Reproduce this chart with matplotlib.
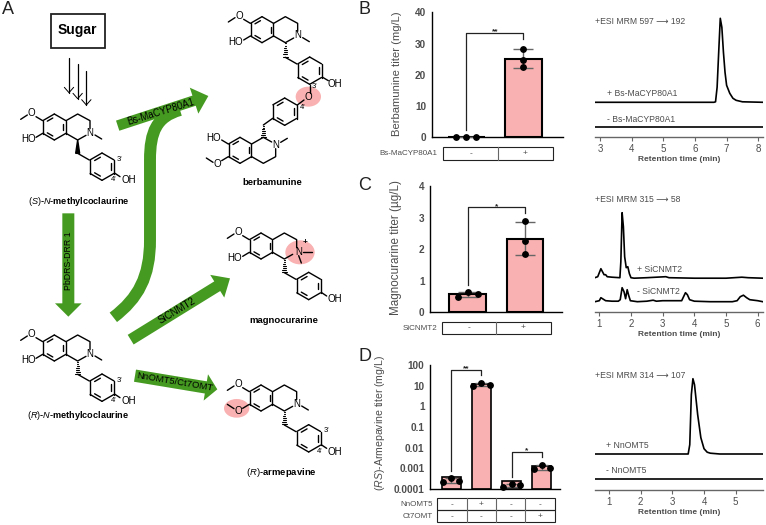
import numpy as np
import matplotlib
matplotlib.use("Agg")
from matplotlib import pyplot as plt
from matplotlib.patches import Polygon, Ellipse, Rectangle, PathPatch
from matplotlib.path import Path

plt.rcParams['font.family'] = ['Liberation Sans', 'DejaVu Sans']
plt.rcParams['mathtext.fontset'] = 'custom'
plt.rcParams['mathtext.it'] = 'Liberation Sans:italic'
plt.rcParams['mathtext.rm'] = 'Liberation Sans'

# bar values
b_labels = ["-", "+"]
b_ctrl = [0.1, 0.1, 0.1]
b_test = [28.4, 24.6, 22.5]
c_labels = ["-", "+"]
c_ctrl = [0.5, 0.65, 0.57]
c_test = [2.88, 2.25, 1.85]
d_groups = [[0.00022, 0.00034, 0.00024], [9.5, 14, 11],
            [0.00013, 0.00018, 0.00016], [0.00095, 0.0015, 0.00105]]
d_row1 = ["-", "+", "-", "-"]
d_row2 = ["-", "-", "-", "+"]
d_ticks = [0.0001, 0.001, 0.01, 0.1, 1, 10, 100]
d_ticklabels = ["0.0001", "0.001", "0.01", "0.1", "1", "10", "100"]

# chromatograms
b_t_plus = [2.84, 6.0, 6.6, 6.65, 6.7, 6.75, 6.8, 6.85, 6.9, 6.95, 7.0, 7.1, 7.2, 7.3, 7.5, 8.16]
b_y_plus = [35, 35, 35, 35.5, 50, 85, 119, 110, 85, 65, 52, 44, 39, 37, 35.5, 35]
b_t_minus = [2.84, 8.16]
b_y_minus = [10.7, 10.7]
c_t_plus = [.86, .95, 1.0, 1.05, 1.1, 1.15, 1.2, 1.25, 1.4, 1.65, 1.68, 1.72, 1.76, 1.8, 1.85, 1.9, 1.95,
            2.0, 2.1, 2.5, 3.1, 3.2, 4.0, 5.0, 5.5, 5.7, 6.16]
c_y_plus = [34, 35, 39, 43, 40, 37, 37, 35, 34.5, 34, 50, 99, 85, 55, 44, 45, 38,
            34, 33.5, 34, 35, 34, 33.5, 33.5, 34.5, 34, 33.5]
c_t_minus = [.86, 1.0, 1.05, 1.1, 1.2, 1.4, 1.6, 1.66, 1.72, 1.78, 1.83, 1.88, 1.93, 1.98, 2.2, 2.5, 2.7, 2.8,
             3.0, 3.4, 3.6, 3.66, 3.72, 3.78, 3.85, 4.0, 4.5, 5.2, 5.35, 5.45, 5.55, 5.65, 5.75, 6.0, 6.16]
c_y_minus = [10, 11, 14, 13, 11, 10.5, 10.5, 12, 24, 20, 13, 22, 16, 11, 10, 10.5, 11.5, 10.5,
             11, 11, 11, 15, 19, 17, 12, 10.5, 10, 10, 11, 15, 16.5, 14, 12, 11, 10]
d_t_plus = [.56, 3.5, 3.55, 3.6, 3.65, 3.7, 3.75, 3.8, 3.9, 4.0, 4.1, 4.2, 4.5, 5.85]
d_y_plus = [35.7, 35.7, 45, 95, 111, 105, 90, 75, 52, 41, 37.5, 36.5, 35.7, 35.7]
d_t_minus = [.56, 5.85]
d_y_minus = [10.7, 10.7]

W, H = 766, 525
GREEN = '#459a21'
PINK = '#f9b1b1'
GREY = '#4d4d4d'

fig = plt.figure(figsize=(W / 100, H / 100), dpi=100)


def px_axes(left, top, right, bottom):
    return fig.add_axes([left / W, 1 - bottom / H, (right - left) / W, (bottom - top) / H], facecolor='none')


# full-figure layer in pixels for the scheme, tables and text
ov = px_axes(0, 0, W, H)
ov.set_xlim(0, W)
ov.set_ylim(H, 0)
ov.axis('off')


def line(pts, lw=1.0, color='black', zorder=3):
    arr = np.array(pts, dtype=float) / 3
    ov.plot(arr[:, 0], arr[:, 1], color=color, lw=lw, solid_capstyle='round', zorder=zorder)


def label(x, y, s, size=7, **kw):
    kw.setdefault('ha', 'center')
    kw.setdefault('va', 'center')
    ov.text(x / 3, y / 3, s, fontsize=size, zorder=4, **kw)


def ring(cx, cy, r=40, inner=(0, 2, 4)):
    ang = np.radians([150, 90, 30, -30, -90, -150])
    vx = cx + r * np.cos(ang)
    vy = cy - r * np.sin(ang)
    for i in range(6):
        j = (i + 1) % 6
        line([(vx[i], vy[i]), (vx[j], vy[j])])
        if i in inner:
            a = np.array([vx[i], vy[i]])
            b = np.array([vx[j], vy[j]])
            c = np.array([cx, cy])
            p = a + (b - a) * 0.18
            q = a + (b - a) * 0.82
            line([p + (c - p) * 0.24, q + (c - q) * 0.24])


def stereo(x0, y0, x1, y1, hashed=True):
    if hashed:
        for f in np.linspace(0.05, 0.95, 7):
            hw = 1 + 6 * f
            y = y0 + (y1 - y0) * f
            line([(x0 - hw, y), (x0 + hw, y)], lw=0.8)
    else:
        ov.add_patch(Polygon([(x0 / 3, y0 / 3), ((x0 - 6) / 3, y1 / 3), ((x0 + 6) / 3, y1 / 3)],
                             color='black', zorder=3))


def iso(ox, oy, flip=1, charged=False, dimethoxy=False):
    def p(dx, dy):
        return (ox + dx, oy + flip * dy)
    if flip == 1:
        ring(ox + 35, oy + 19, 39, inner=(0, 2, 4))
    else:
        ring(ox + 35, oy - 19, 39, inner=(0, 2, 4))
    line([p(70, 0), p(105, -20), p(142, 0), p(142, 24)])
    line([p(70, 38), p(105, 58), p(130, 44)])
    line([p(0, 0), p(-20, -12)])
    line([p(-46, -17), p(-66, -4)])
    ox_, oy_ = p(-33, -22)
    label(ox_, oy_, 'O')
    if dimethoxy:
        line([p(0, 38), p(-20, 50)])
        line([p(-46, 51), p(-66, 38)])
        label(*p(-33, 58), 'O')
    else:
        line([p(0, 38), p(-20, 50)])
        label(*p(-43, 56), 'HO')
    nx, ny = p(142, 36)
    label(nx + (6 if charged else 0), ny, 'N')
    if charged:
        line([(nx + 18, ny), (nx + 45, ny)])
        line([(nx + 6, ny + 12), (nx + 14, ny + 34)])
        label(nx + 24, ny - 28, '+', size=6, fontweight='bold')
    else:
        line([p(157, 43), p(177, 55)])


def benzyl(x, y, oh=True, primes=True):
    # ring hanging from the CH2 at (x, y)
    line([(x, y), (x + 35, y + 20)])
    ring(x + 73, y + 40, 41, inner=(0, 2, 4))
    if oh:
        line([(x + 112, y + 60), (x + 127, y + 70)])
        label(x + 152, y + 80, 'OH')
    if primes:
        label(x + 125, y + 18, "3'", size=5.5)
        label(x + 107, y + 79, "4'", size=5.5)


def arrow(x0, y0, x1, y1, w, hw, hl, text=None, tx=None, ty=None, rot=0, size=6.9):
    a = np.array([x0, y0], dtype=float)
    b = np.array([x1, y1], dtype=float)
    d = (b - a) / np.hypot(*(b - a))
    n = np.array([-d[1], d[0]])
    base = b - d * hl
    pts = [a + n * w / 2, base + n * w / 2, base + n * hw / 2, b, base - n * hw / 2, base - n * w / 2, a - n * w / 2]
    ov.add_patch(Polygon(np.array(pts) / 3, color=GREEN, lw=0, zorder=2))
    if text:
        label(tx, ty, text, size=size, rotation=rot, rotation_mode='anchor', color='black')


# --- panel A ---
for s, x, y in [('A', 25, 28), ('B', 1095, 27), ('C', 1095, 558), ('D', 1095, 1070)]:
    label(x, y, s, size=13, color='#222222')

ov.add_patch(Rectangle((50.5, 13.5), 54.5, 34.5, fill=False, ec='#222222', lw=1.3))
label(232, 90, 'Sugar', size=10, fontweight='bold')
for x, y0, y1 in [(207, 175, 278), (233, 192, 296), (259, 212, 315)]:
    line([(x, y0), (x, y1)], lw=0.9)
    line([(x - 14, y1 - 16), (x, y1), (x + 14, y1 - 16)], lw=0.7)

# green arrows
curve = Path(np.array([(340, 952), (415, 895), (450, 830), (450, 720), (450, 480), (450, 395), (470, 350), (540, 330)]) / 3,
             [Path.MOVETO, Path.CURVE4, Path.CURVE4, Path.CURVE4, Path.LINETO, Path.CURVE4, Path.CURVE4, Path.CURVE4])
ov.add_patch(PathPatch(curve, fill=False, ec=GREEN, lw=8.6, capstyle='butt', zorder=2))
arrow(353, 377, 625, 288, 32, 82, 45, 'Bs-MaCYP80A1', 482, 335, 17)
arrow(205, 640, 205, 950, 36, 80, 40, 'PbDRS-DRR 1', 205, 782, 90, size=6.3)
arrow(392, 1019, 690, 835, 34, 80, 45, 'SiCNMT2', 530, 932, 31, size=7)
arrow(405, 1127, 652, 1168, 37, 80, 35, 'NnOMT5/Ct7OMT', 524, 1147, -9.5, size=6.8)

# pink highlights
for cx, cy, rx, ry in [(925, 290, 38, 30), (900, 757, 44, 36), (710, 1225, 38, 28)]:
    ov.add_patch(Ellipse((cx / 3, cy / 3), 2 * rx / 3, 2 * ry / 3, color=PINK, lw=0, zorder=1))

# (S)-N-methylcoclaurine
iso(128, 362)
stereo(233, 420, 233, 460, hashed=False)
benzyl(233, 460)
label(235, 604, r'$\mathit{(S)}$-$\mathit{N}$-methylcoclaurine', size=6.6, fontweight='bold')

# (R)-N-methylcoclaurine
iso(128, 1025)
stereo(233, 1083, 233, 1123)
benzyl(233, 1123)
label(235, 1247, r'$\mathit{(R)}$-$\mathit{N}$-methylcoclaurine', size=6.6, fontweight='bold')

# berbamunine
iso(751, 70)
stereo(856, 128, 856, 172)
benzyl(856, 172, oh=False, primes=False)
line([(968, 232), (985, 242)])
label(1005, 252, 'OH')
line([(930, 255), (930, 278)])
label(926, 292, 'O')
label(943, 260, "3'", size=5.5)
label(908, 322, "4'", size=5.5)
line([(912, 300), (892, 315)])
ring(854, 335, 41, inner=(0, 2, 4))
line([(818, 355), (790, 375)])
stereo(790, 375, 790, 413)
iso(685, 470, flip=-1)
label(818, 548, 'berbamunine', size=6.8, fontweight='bold')

# magnocurarine
iso(748, 719, charged=True)
stereo(853, 777, 853, 818)
benzyl(853, 818, primes=False)
label(850, 962, 'magnocurarine', size=6.8, fontweight='bold')

# (R)-armepavine
iso(748, 1175, dimethoxy=True)
stereo(853, 1233, 853, 1275)
benzyl(853, 1275)
label(845, 1418, r'$\mathit{(R)}$-armepavine', size=6.8, fontweight='bold')


# --- bar panels ---
def style_bar(ax):
    ax.spines[['top', 'right']].set_visible(False)
    ax.spines[['left', 'bottom']].set_linewidth(1.0)
    ax.tick_params(length=0, pad=4, labelsize=7.2, labelcolor=GREY)
    ax.set_xticks([])
    for t in ax.get_yticklabels():
        t.set_fontweight('bold')


def draw_group(ax, x, vals, width, spread, bar_lw=1.5, cap=7):
    vals = np.array(vals, dtype=float)
    m = vals.mean()
    s = vals.std(ddof=1)
    ax.bar(x, m, width=width, color=PINK, edgecolor='black', linewidth=bar_lw, zorder=2,
           bottom=ax.get_ylim()[0] if ax.get_yscale() == 'log' else 0)
    if s > 0:
        low = m - s if m - s > 0 else m
        ax.errorbar(x, m, yerr=[[m - low], [s]], color='#666666', capsize=cap, lw=1.0, zorder=3)
    offs = np.array(spread) + x
    ax.plot(offs, vals, 'o', color='black', ms=3.9, zorder=4, clip_on=False)


def bracket(ax, x0, x1, y0, y1, top, star):
    ax.plot([x0, x0, x1, x1], [y0, top, top, y1], color='#222222', lw=0.9, zorder=3, clip_on=False)
    ax.annotate(star, ((x0 + x1) / 2, top), xytext=(0, 0.8), textcoords='offset points', ha='center', va='center',
                fontsize=6, color='#222222', fontweight='bold', annotation_clip=False)


def ylabel(ax, s, x, y, left, top, right, bottom, size=8.1):
    ax.set_ylabel(s, fontsize=size, color=GREY)
    ax.yaxis.set_label_coords((x - left) / (right - left), (bottom - y) / (bottom - top))


def table_row(x_edges, top, bottom, cells):
    ov.add_patch(Rectangle((x_edges[0], top), x_edges[-1] - x_edges[0], bottom - top, fill=False, ec='#222222', lw=0.8))
    for xe in x_edges[1:-1]:
        ov.plot([xe, xe], [top, bottom], color='#666666', lw=0.8)
    for i, c in enumerate(cells):
        ov.text((x_edges[i] + x_edges[i + 1]) / 2, (top + bottom) / 2, c, ha='center', va='center', fontsize=6, color=GREY)


# B
box = (431.7, 12.3, 563, 137.3)
ax = px_axes(*box)
ax.set_xlim(-0.607, 1.696)
ax.set_ylim(0, 40)
ax.set_yticks([0, 10, 20, 30, 40])
style_bar(ax)
draw_group(ax, 0, b_ctrl, 0.64, [-0.175, 0, 0.175])
draw_group(ax, 1, b_test, 0.64, [0, 0, 0])
bracket(ax, 0, 1, 2.3, 31.3, 33.3, '**')
ylabel(ax, 'Berbamunine titer (mg/L)', 402.3, 74, *box)
table_row([443.3, 498, 552.7], 147.3, 159.7, b_labels)
ov.text(437, 153.5, 'Bs-MaCYP80A1', ha='right', va='center', fontsize=5.8, color=GREY)

# C
box = (430, 186, 561.7, 312.3)
ax = px_axes(*box)
ax.set_xlim(-0.658, 1.64)
ax.set_ylim(0, 4)
ax.set_yticks([0, 1, 2, 3, 4])
style_bar(ax)
draw_group(ax, 0, c_ctrl, 0.64, [-0.175, 0, 0.175])
draw_group(ax, 1, c_test, 0.64, [0, 0, 0])
bracket(ax, 0, 1, 0.86, 3.13, 3.32, '*')
ylabel(ax, 'Magnocurarine titer (µg/L)', 401.7, 247.7, *box, size=8.4)
table_row([441.7, 496, 550.7], 321.7, 334.3, c_labels)
ov.text(437, 328, 'SiCNMT2', ha='right', va='center', fontsize=5.8, color=GREY)

# D
box = (430, 365, 560, 489)
ax = px_axes(*box)
ax.set_yscale('log')
ax.set_xlim(-0.708, 3.61)
ax.set_ylim(0.0001, 100)
ax.set_yticks(d_ticks)
ax.set_yticklabels(d_ticklabels)
ax.minorticks_off()
style_bar(ax)
for i, vals in enumerate(d_groups):
    draw_group(ax, i, vals, 0.62, [-0.27, 0, 0.27], bar_lw=1.2, cap=4)
bracket(ax, 0, 1, 0.00077, 32, 57, '**')
bracket(ax, 2, 3, 0.0004, 0.0034, 0.0063, '*')
ylabel(ax, r'($\mathit{RS}$)-Armepavine titer (mg/L)', 387.3, 423.3, *box, size=7.6)
edges = [437.3, 466.7, 496, 525.3, 554.7]
table_row(edges, 498.3, 510.3, d_row1)
table_row(edges, 510.3, 522.3, d_row2)
ov.text(433.3, 504.3, 'NnOMT5', ha='right', va='center', fontsize=5.8, color=GREY)
ov.text(433.3, 516.3, 'Ct7OMT', ha='right', va='center', fontsize=5.8, color=GREY)


# --- chromatograms ---
def chrom(left, top, right, bottom, xlim, ticks, traces):
    ax = px_axes(left, top, right, bottom)
    ax.set_xlim(*xlim)
    ax.set_ylim(0, bottom - top)
    for t, y in traces:
        ax.plot(t, y, color='black', lw=1.2, solid_joinstyle='round')
    ax.spines[['top', 'right', 'left']].set_visible(False)
    ax.spines['bottom'].set_color('#666666')
    ax.spines['bottom'].set_linewidth(1.0)
    ax.set_yticks([])
    ax.set_xticks(ticks)
    ax.tick_params(axis='x', length=3, width=0.8, color='#666666', pad=2, labelsize=7, labelcolor=GREY)
    ax.set_xlabel('Retention time (min)', fontsize=6, color=GREY, fontweight='bold', labelpad=1.5)
    return ax


chrom(595, 10, 763.3, 137.3, (2.84, 8.16), [3, 4, 5, 6, 7, 8], [(b_t_plus, b_y_plus), (b_t_minus, b_y_minus)])
chrom(595, 205, 762.7, 311.7, (0.864, 6.158), [1, 2, 3, 4, 5, 6], [(c_t_plus, c_y_plus), (c_t_minus, c_y_minus)])
chrom(595, 375, 762.7, 489.7, (0.558, 5.853), [1, 2, 3, 4, 5], [(d_t_plus, d_y_plus), (d_t_minus, d_y_minus)])

for s, x, y in [('+ESI MRM 597 ⟶ 192', 595, 21.7), ('+ Bs-MaCYP80A1', 607.3, 94), ('- Bs-MaCYP80A1', 607.3, 119.3),
                ('+ESI MRM 315 ⟶ 58', 595, 200), ('+ SiCNMT2', 637.3, 269.3), ('- SiCNMT2', 637.3, 291.3),
                ('+ESI MRM 314 ⟶ 107', 595, 375), ('+ NnOMT5', 606, 445.3), ('- NnOMT5', 606, 470.7)]:
    ov.text(x, y, s, ha='left', va='center', fontsize=6.2, color=GREY)

fig.savefig('out.png', dpi=100)
